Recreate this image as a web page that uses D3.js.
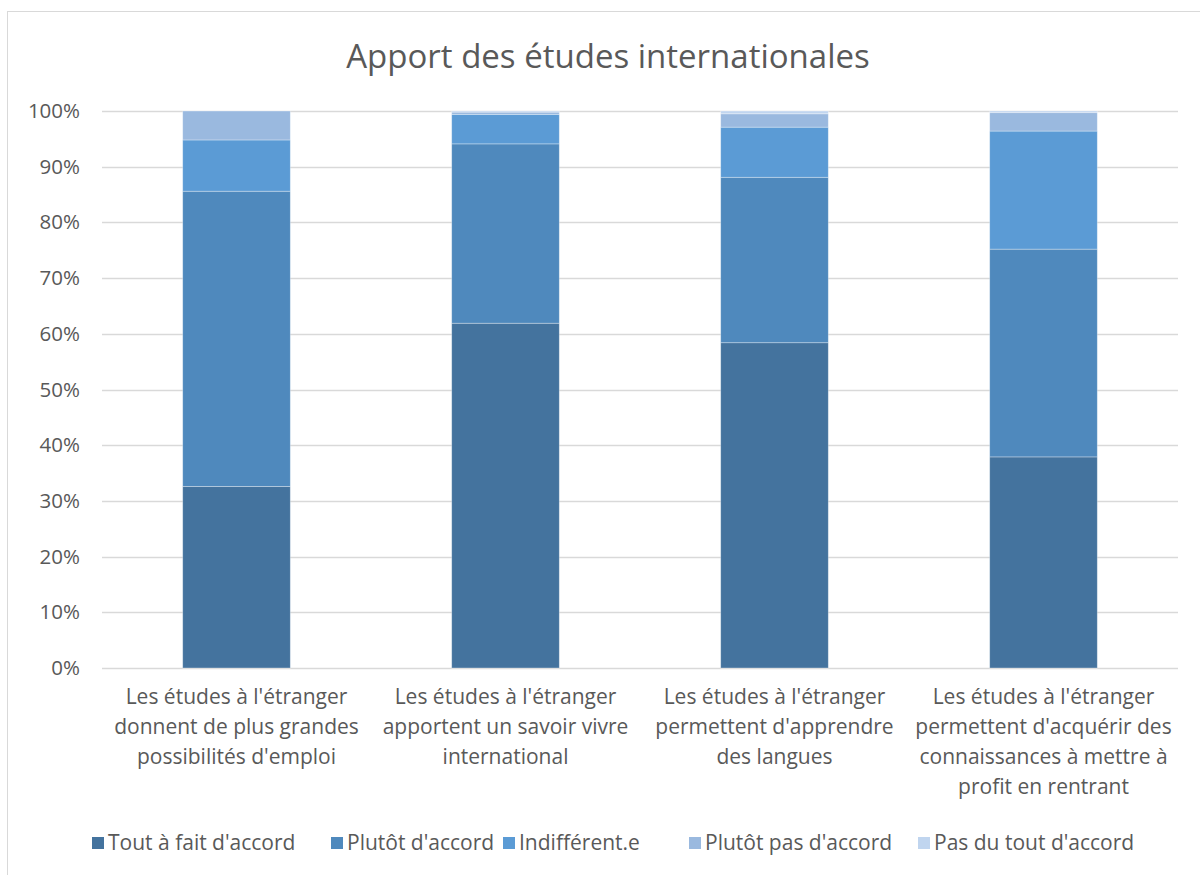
<!DOCTYPE html>
<html>
<head>
<meta charset="utf-8">
<script src="https://cdn.jsdelivr.net/npm/d3@7"></script>
<style>
  body { margin: 0; background: #fff; }
  svg text { font-family: "Open Sans", sans-serif; fill: #595959; }
</style>
</head>
<body>
<div id="chart"></div>
<script>
// chart data
const title = 'Apport des études internationales';

const categories = [
  ['Les études à l\'étranger', 'donnent de plus grandes', 'possibilités d\'emploi'],
  ['Les études à l\'étranger', 'apportent un savoir vivre', 'international'],
  ['Les études à l\'étranger', 'permettent d\'apprendre', 'des langues'],
  ['Les études à l\'étranger', 'permettent d\'acquérir des', 'connaissances à mettre à', 'profit en rentrant']
];

const seriesNames = ['Tout à fait d\'accord', 'Plutôt d\'accord', 'Indifférent.e', 'Plutôt pas d\'accord', 'Pas du tout d\'accord'];

const toutAFait   = [32.6, 61.9, 58.4, 37.9];
const plutot      = [53.0, 32.2, 29.7, 37.3];
const indifferent = [9.2, 5.3, 9.0, 21.2];
const plutotPas   = [5.2, 0.4, 2.4, 3.3];
const pasDuTout   = [0.0, 0.2, 0.5, 0.3];

const yTicks = [0, 0.1, 0.2, 0.3, 0.4, 0.5, 0.6, 0.7, 0.8, 0.9, 1];

const colors = ['#44739e', '#4f89bd', '#5b9bd5', '#9ab9df', '#c0d5ef'];

const width = 1200;
const height = 875;
const margin = { top: 111, right: 22, bottom: 207, left: 102 };

const svg = d3.select('#chart').append('svg')
  .attr('width', width)
  .attr('height', height);

// chart frame
svg.append('rect')
  .attr('x', 7.5).attr('y', 11.5)
  .attr('width', 1200).attr('height', 880)
  .attr('fill', '#fff')
  .attr('stroke', '#d9d9d9');

svg.append('text')
  .attr('x', 608).attr('y', 68)
  .attr('text-anchor', 'middle')
  .style('font-size', '33px')
  .text(title);

const innerW = width - margin.left - margin.right;
const innerH = height - margin.top - margin.bottom;

const g = svg.append('g')
  .attr('transform', 'translate(' + margin.left + ',' + margin.top + ')');

// table built from the series arrays
const seriesArrays = [toutAFait, plutot, indifferent, plutotPas, pasDuTout];
const rows = categories.map((c, i) => {
  const row = { idx: i };
  seriesNames.forEach((s, k) => { row[s] = seriesArrays[k][i]; });
  return row;
});

const stacked = d3.stack()
  .keys(seriesNames)
  .offset(d3.stackOffsetExpand)(rows);

const x = d3.scaleBand()
  .domain(d3.range(categories.length))
  .range([0, innerW])
  .paddingInner(0.6)
  .paddingOuter(0.3);

const y = d3.scaleLinear()
  .domain([0, 1])
  .range([innerH, 0]);

// gridlines
g.append('g')
  .selectAll('line')
  .data(yTicks)
  .join('line')
  .attr('x1', 0).attr('x2', innerW)
  .attr('y1', d => Math.round(y(d)) + 0.5)
  .attr('y2', d => Math.round(y(d)) + 0.5)
  .attr('stroke', '#d9d9d9')
  .attr('stroke-width', 1.5);

// y axis
const yAxis = d3.axisLeft(y)
  .tickValues(yTicks)
  .tickFormat(d3.format('.0%'))
  .tickSize(0)
  .tickPadding(22);

g.append('g')
  .attr('class', 'y axis')
  .call(yAxis)
  .call(a => a.select('.domain').remove())
  .selectAll('text')
  .style('font-size', '20.5px');

// bars
g.append('g')
  .selectAll('g')
  .data(stacked)
  .join('g')
  .attr('fill', (d, i) => colors[i])
  .selectAll('rect')
  .data(d => d)
  .join('rect')
  .attr('x', d => x(d.data.idx))
  .attr('y', d => y(d[1]))
  .attr('width', x.bandwidth())
  .attr('height', d => y(d[0]) - y(d[1]))
  .attr('stroke', '#fff')
  .attr('stroke-opacity', 0.4)
  .attr('stroke-width', 0.8);

// x axis labels
const xAxis = d3.axisBottom(x)
  .tickSize(0)
  .tickFormat('');

const xg = g.append('g')
  .attr('class', 'x axis')
  .attr('transform', 'translate(0,' + innerH + ')')
  .call(xAxis);
xg.select('.domain').remove();

xg.selectAll('.tick').each(function (d) {
  const t = d3.select(this).append('text')
    .attr('text-anchor', 'middle')
    .attr('y', 36)
    .style('font-size', '21px');
  categories[d].forEach((line, j) => {
    t.append('tspan')
      .attr('x', 0)
      .attr('dy', j === 0 ? 0 : 30)
      .text(line);
  });
});

// legend
const legendItemsX = [92, 331, 503, 689, 918];
const legend = svg.append('g')
  .attr('transform', 'translate(0,843)');

const items = legend.selectAll('g')
  .data(seriesNames)
  .join('g')
  .attr('transform', (d, i) => 'translate(' + legendItemsX[i] + ',0)');

items.append('rect')
  .attr('x', 0).attr('y', -6)
  .attr('width', 12).attr('height', 12)
  .attr('fill', (d, i) => colors[i]);

items.append('text')
  .attr('x', 16).attr('y', 7)
  .style('font-size', '21px')
  .text(d => d);
</script>
</body>
</html>
